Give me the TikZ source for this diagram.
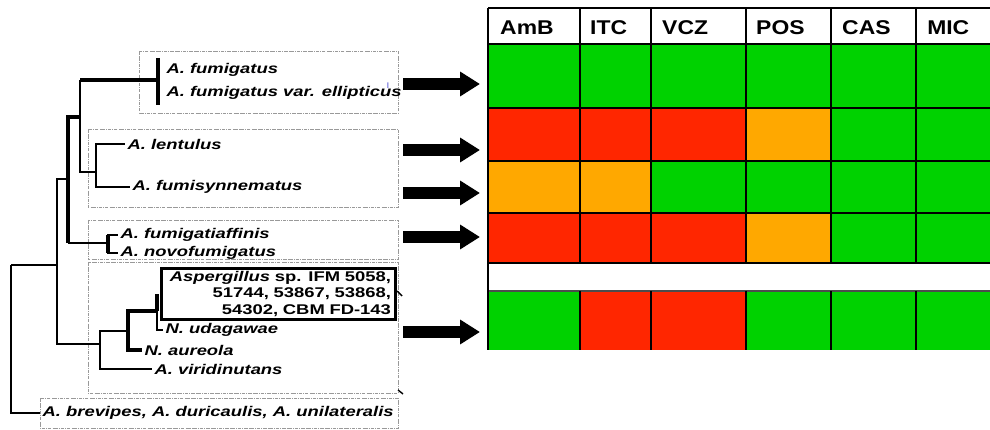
\documentclass[tikz,border=0pt]{standalone}
\usepackage{fontspec}
\setmainfont{Liberation Sans}
\newfontfamily\taxfont[FakeStretch=1.31]{Liberation Sans}
\newfontfamily\hdrfont[FakeStretch=1.15]{Liberation Sans}
\usetikzlibrary{arrows.meta}
\definecolor{cgreen}{RGB}{0,210,0}
\definecolor{cred}{RGB}{255,38,0}
\definecolor{corange}{RGB}{255,168,0}

\begin{document}
\begin{tikzpicture}[x=0.03cm, y=-0.03cm,
    br/.style={line width=1.2pt},
    brthick/.style={line width=2.6pt},
    clade/.style={draw=gray!80, densely dashdotted, line width=0.6pt},
    taxon/.style={anchor=west, inner sep=2pt, font=\taxfont\fontsize{12}{13.4}\selectfont\bfseries\itshape},
    drug/.style={anchor=west, inner sep=0pt, font=\hdrfont\fontsize{17}{20}\selectfont\bfseries},
    fatarrow/.style={line width=10pt, -{Triangle[length=17pt,width=20pt]}},
    gridline/.style={line width=1.6pt}]
    % pixel coordinates of the original, y downwards
    \useasboundingbox (0,0) rectangle (990,430);

    % --- Clade boxes ---
    \draw[clade] (139,51) rectangle (398,113); % fumigatus
    \draw[clade] (88,129) rectangle (398,207); % lentulus
    \draw[clade] (88,220) rectangle (398,259); % fumigatiaffinis
    \draw[clade] (88,262) rectangle (398,393); % Neosartorya
    \draw[clade] (40,398) rectangle (398,428); % outgroup

    % --- Taxa ---
    \node[taxon] (fum1) at (164,70) {A. fumigatus};
    \node[taxon] (fum2) at (164,93) {A. fumigatus var. ellipticus};
    \node[taxon] (lent) at (125,144) {A. lentulus};
    \node[taxon] (fsyn) at (130,187) {A. fumisynnematus};
    \node[taxon] (faff) at (118,235) {A. fumigatiaffinis};
    \node[taxon] (novo) at (118,253) {A. novofumigatus};
    \node[taxon, draw, line width=2.2pt, anchor=north west, inner xsep=4pt,
          text width=6.75cm, align=right, minimum height=1.53cm,
          font=\taxfont\fontsize{12}{14.2}\selectfont\bfseries] (asp) at (160,267)
        {\textit{Aspergillus} sp. IFM 5058,\\ 51744, 53867, 53868,\\ 54302, CBM FD-143};
    \node[taxon] (udag) at (163,330) {N. udagawae};
    \node[taxon] (aure) at (142,350) {N. aureola};
    \node[taxon] (viri) at (152,369) {A. viridinutans};
    \node[taxon] (brev) at (40,413) {A. brevipes, A. duricaulis, A. unilateralis};

    % --- Tree ---
    \coordinate (r0) at (11,265);
    \coordinate (n1) at (57,265);
    \coordinate (n2) at (68,179);
    \coordinate (n3) at (80,117);
    \coordinate (fc) at (158,80);
    \coordinate (n4) at (96,172);
    \coordinate (n5) at (108,243);
    \coordinate (n6) at (100,344);
    \coordinate (n7) at (128,331);
    \coordinate (n8) at (157,311);

    \draw[br] (r0) -- (n1);
    \draw[br] (r0) |- (brev.west);
    \draw[br] (n1) |- (n2);
    \draw[br] (n1) |- (n6);
    \draw[brthick] (n2) |- (n3);
    \draw[brthick] (n2) -- (n2 |- n5);
    \draw[br] (n2 |- n5) -- (n5);
    \draw[br] (n3) -- (n3 |- fc);
    \draw[brthick] (n3 |- fc) -- (fc);
    \draw[brthick] (fc) ++(0,-22) -- ++(0,47);
    \draw[br] (n3) |- (n4);
    \draw[br] (n4) |- (lent.west);
    \draw[br] (n4) |- (fsyn.west);
    \draw[br] (n5) |- (faff.west);
    \draw[br] (n5) |- (novo.west);
    \draw[brthick] (n5 |- faff.west) -- (n5 |- novo.west);
    \draw[br] (n6) |- (n7);
    \draw[br] (n6) |- (viri.west);
    \draw[brthick] (n7) |- (n8);
    \draw[brthick] (n7) |- (aure.west);
    \draw[brthick] (n8) -- (n8 |- asp.west);
    \draw[br] (n8) |- (udag.west);

    % stray marks
    \draw[line width=1.2pt] (397,291) -- (402,296);
    \draw[line width=1.2pt] (398,390) -- (403,394);
    \node[inner sep=0pt, text=blue!60!gray, font=\rmfamily\fontsize{7}{8}\selectfont] (cur) at (388,86) {I};

    % --- Table ---
    \fill[cgreen] (488,44) rectangle (990,108); % row 1
    \fill[cred] (488,108) rectangle (746,161); % row 2
    \fill[corange] (746,108) rectangle (831,161);
    \fill[cgreen] (831,108) rectangle (990,161);
    \fill[corange] (488,161) rectangle (651,213); % row 3
    \fill[cgreen] (651,161) rectangle (990,213);
    \fill[cred] (488,213) rectangle (746,263); % row 4
    \fill[corange] (746,213) rectangle (831,263);
    \fill[cgreen] (831,213) rectangle (990,263);
    \fill[cgreen] (488,291) rectangle (580,350); % row 5
    \fill[cred] (580,291) rectangle (746,350);
    \fill[cgreen] (746,291) rectangle (990,350);

    \draw[gridline] (488,8) -- (990,8);
    \draw[gridline] (488,44) -- (990,44);
    \draw[gridline] (488,108) -- (990,108);
    \draw[gridline] (488,161) -- (990,161);
    \draw[gridline] (488,213) -- (990,213);
    \draw[gridline] (488,263) -- (990,263);
    \draw[gridline, draw=black!70] (488,291) -- (990,291);
    \draw[gridline] (488,8) -- (488,350);
    \draw[gridline] (580,8) -- (580,263);
    \draw[gridline] (651,8) -- (651,263);
    \draw[gridline] (746,8) -- (746,263);
    \draw[gridline] (831,8) -- (831,263);
    \draw[gridline] (916,8) -- (916,263);
    \draw[gridline] (580,291) -- (580,350);
    \draw[gridline] (651,291) -- (651,350);
    \draw[gridline] (746,291) -- (746,350);
    \draw[gridline] (831,291) -- (831,350);
    \draw[gridline] (916,291) -- (916,350);

    \node[drug] (amb) at (500,28) {AmB};
    \node[drug] (itc) at (590,28) {ITC};
    \node[drug] (vcz) at (662,28) {VCZ};
    \node[drug] (pos) at (756,28) {POS};
    \node[drug] (cas) at (842,28) {CAS};
    \node[drug] (mic) at (927,28) {MIC};

    % --- Arrows ---
    \coordinate (a1) at (403,84);   \coordinate (t1) at (480,84);
    \coordinate (a2) at (403,150);  \coordinate (t2) at (480,150);
    \coordinate (a3) at (403,193);  \coordinate (t3) at (480,193);
    \coordinate (a4) at (403,237);  \coordinate (t4) at (480,237);
    \coordinate (a5) at (403,332);  \coordinate (t5) at (480,332);
    \draw[fatarrow] (a1) -- (t1);
    \draw[fatarrow] (a2) -- (t2);
    \draw[fatarrow] (a3) -- (t3);
    \draw[fatarrow] (a4) -- (t4);
    \draw[fatarrow] (a5) -- (t5);
\end{tikzpicture}
\end{document}
